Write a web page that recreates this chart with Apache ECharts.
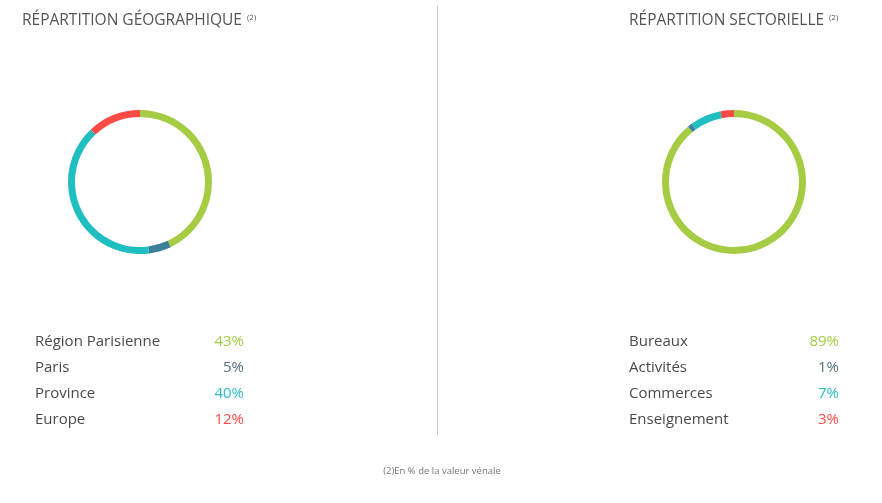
<!DOCTYPE html>
<html><head><meta charset="utf-8">
<script src="https://cdn.jsdelivr.net/npm/echarts@6/dist/echarts.min.js"></script>
<style>html,body{margin:0;padding:0;background:#fff}#c{width:882px;height:503px}</style>
</head><body><div id="c"></div>
<script>
var geoLabels = ['Région Parisienne', 'Paris', 'Province', 'Europe'];
var geoValues = [43, 5, 40, 12];
var secLabels = ['Bureaux', 'Activités', 'Commerces', 'Enseignement'];
var secValues = [89, 1, 7, 3];
var sliceColors = ['#a6cc43', '#3d7f98', '#1fbec0', '#ff4a46'];
var pctColors = ['#a6cc43', '#56707f', '#2bbcc4', '#ff4a46'];
var titles = ['RÉPARTITION GÉOGRAPHIQUE', 'RÉPARTITION SECTORIELLE'];
var footnote = '(2)En % de la valeur vénale';

var FONT = 'Open Sans';
var chart = echarts.init(document.getElementById('c'));

function pie(center, labels, values) {
  return {
    type: 'pie', center: center, radius: [65, 72], startAngle: 90, clockwise: true,
    silent: true, label: {show: false}, labelLine: {show: false}, animation: false,
    itemStyle: {borderWidth: 0},
    data: labels.map(function (n, i) { return {name: n, value: values[i], itemStyle: {color: sliceColors[i]}}; })
  };
}

var g = [];
function block(xLabel, xPct, labels, values) {
  labels.forEach(function (n, i) {
    var y = 342 + i * 26;
    g.push({type: 'text', style: {x: xLabel, y: y, text: n, fill: '#4a4a4a', font: '15px "' + FONT + '"', textVerticalAlign: 'middle'}});
    g.push({type: 'text', style: {x: xPct, y: y, text: values[i] + '%', fill: pctColors[i], font: '15px "' + FONT + '"', textAlign: 'right', textVerticalAlign: 'middle'}});
  });
}
block(35, 244, geoLabels, geoValues);
block(629, 839, secLabels, secValues);

g.push({type: 'text', style: {x: 22, y: 21, text: titles[0], fill: '#555', font: '15.5px "' + FONT + '"', textVerticalAlign: 'middle'}});
g.push({type: 'text', style: {x: 247, y: 18, text: '(2)', fill: '#555', font: '8px "' + FONT + '"', textVerticalAlign: 'middle'}});
g.push({type: 'text', style: {x: 629, y: 21, text: titles[1], fill: '#555', font: '15.5px "' + FONT + '"', textVerticalAlign: 'middle'}});
g.push({type: 'text', style: {x: 829, y: 18, text: '(2)', fill: '#555', font: '8px "' + FONT + '"', textVerticalAlign: 'middle'}});
g.push({type: 'line', shape: {x1: 437.5, y1: 6, x2: 437.5, y2: 435}, style: {stroke: '#c8c8c8', lineWidth: 1}});
g.push({type: 'text', style: {x: 442, y: 471, text: footnote, fill: '#777', font: '9.5px "' + FONT + '"', textAlign: 'center', textVerticalAlign: 'middle'}});

chart.setOption({
  animation: false,
  series: [pie([140, 182], geoLabels, geoValues), pie([734, 182], secLabels, secValues)],
  graphic: g
});
</script></body></html>
